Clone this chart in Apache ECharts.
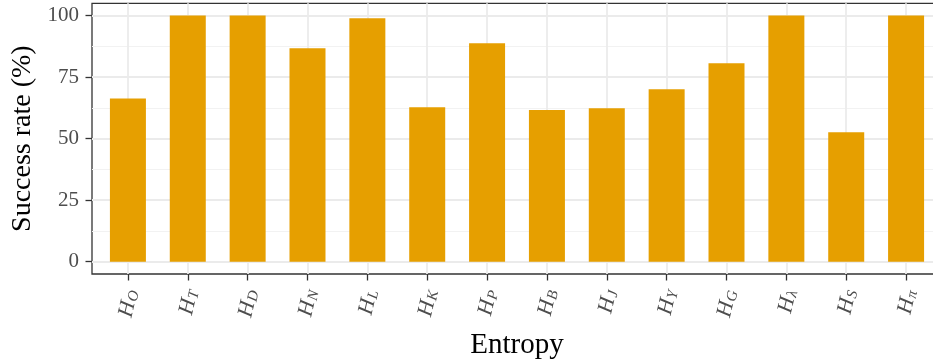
<!DOCTYPE html>
<html>
<head>
<meta charset="utf-8">
<script src="https://cdn.jsdelivr.net/npm/echarts@6/dist/echarts.min.js"></script>
<style>
html,body{margin:0;padding:0;background:#fff;}
#chart{width:933px;height:362px;}
</style>
</head>
<body>
<div id="chart"></div>
<script>
// Data
const categories = ['O','T','D','N','L','K','P','B','J','Y','G','λ','S','π'];
const successRate = [66.3, 100, 100, 86.7, 98.9, 62.8, 88.8, 61.6, 62.4, 70.1, 80.6, 100, 52.6, 100];
const yTicks = [0, 25, 50, 75, 100];
const yMinorTicks = [12.5, 37.5, 62.5, 87.5];
const xTicks = categories.map((c, i) => i);

const serif = 'Liberation Serif';
const chart = echarts.init(document.getElementById('chart'), null, {renderer: 'canvas'});

chart.setOption({
  animation: false,
  backgroundColor: '#ffffff',
  grid: {
    left: 92, top: 3.3, width: 850, height: 270.7,
    outerBoundsMode: 'none',
    containLabel: false,
    show: true, borderColor: '#333333', borderWidth: 1.3, backgroundColor: 'transparent'
  },
  xAxis: {
    type: 'value',
    min: -0.6, max: 13.6,
    name: 'Entropy',
    nameLocation: 'middle',
    nameGap: 57,
    nameTextStyle: {fontFamily: serif, fontSize: 29, color: '#000'},
    axisLine: {show: false, onZero: false},
    axisTick: {show: true, customValues: xTicks, length: 6.5, lineStyle: {color: '#333333', width: 1.3}},
    axisLabel: {
      customValues: xTicks,
      rotate: 77,
      margin: 15,
      padding: [8, 0, 0, 0],
      formatter: v => '{i|H}{s|' + categories[Math.round(v)] + '}',
      rich: {
        i: {fontFamily: serif, fontStyle: 'italic', fontSize: 22, color: '#4D4D4D', lineHeight: 20, verticalAlign: 'middle'},
        s: {fontFamily: serif, fontStyle: 'italic', fontSize: 15, color: '#4D4D4D', lineHeight: 15, verticalAlign: 'bottom', padding: [0, 0, -1, 1]}
      }
    },
    splitLine: {show: true, lineStyle: {color: '#EBEBEB', width: 1.8}}
  },
  yAxis: [{
    type: 'value',
    min: -5, max: 105,
    name: 'Success rate (%)',
    nameLocation: 'middle',
    nameGap: 47,
    nameTextStyle: {fontFamily: serif, fontSize: 28, color: '#000'},
    axisLine: {show: false, onZero: false},
    axisTick: {show: true, customValues: yTicks, length: 6.5, lineStyle: {color: '#333333', width: 1.3}},
    axisLabel: {customValues: yTicks, margin: 13, fontFamily: serif, fontSize: 21, color: '#4D4D4D'},
    splitLine: {show: true, lineStyle: {color: '#EBEBEB', width: 1.8}}
  }, {
    type: 'value',
    position: 'left',
    min: -5, max: 105,
    axisLine: {show: false, onZero: false},
    axisTick: {show: false, customValues: yMinorTicks},
    axisLabel: {show: false, customValues: yMinorTicks},
    splitLine: {show: true, lineStyle: {color: '#F2F2F2', width: 1}}
  }],
  series: [{
    type: 'bar',
    yAxisIndex: 0,
    barWidth: 36,
    data: successRate.map((v, i) => [i, v]),
    itemStyle: {color: '#E69F00'},
    z: 5
  }]
});
</script>
</body>
</html>
